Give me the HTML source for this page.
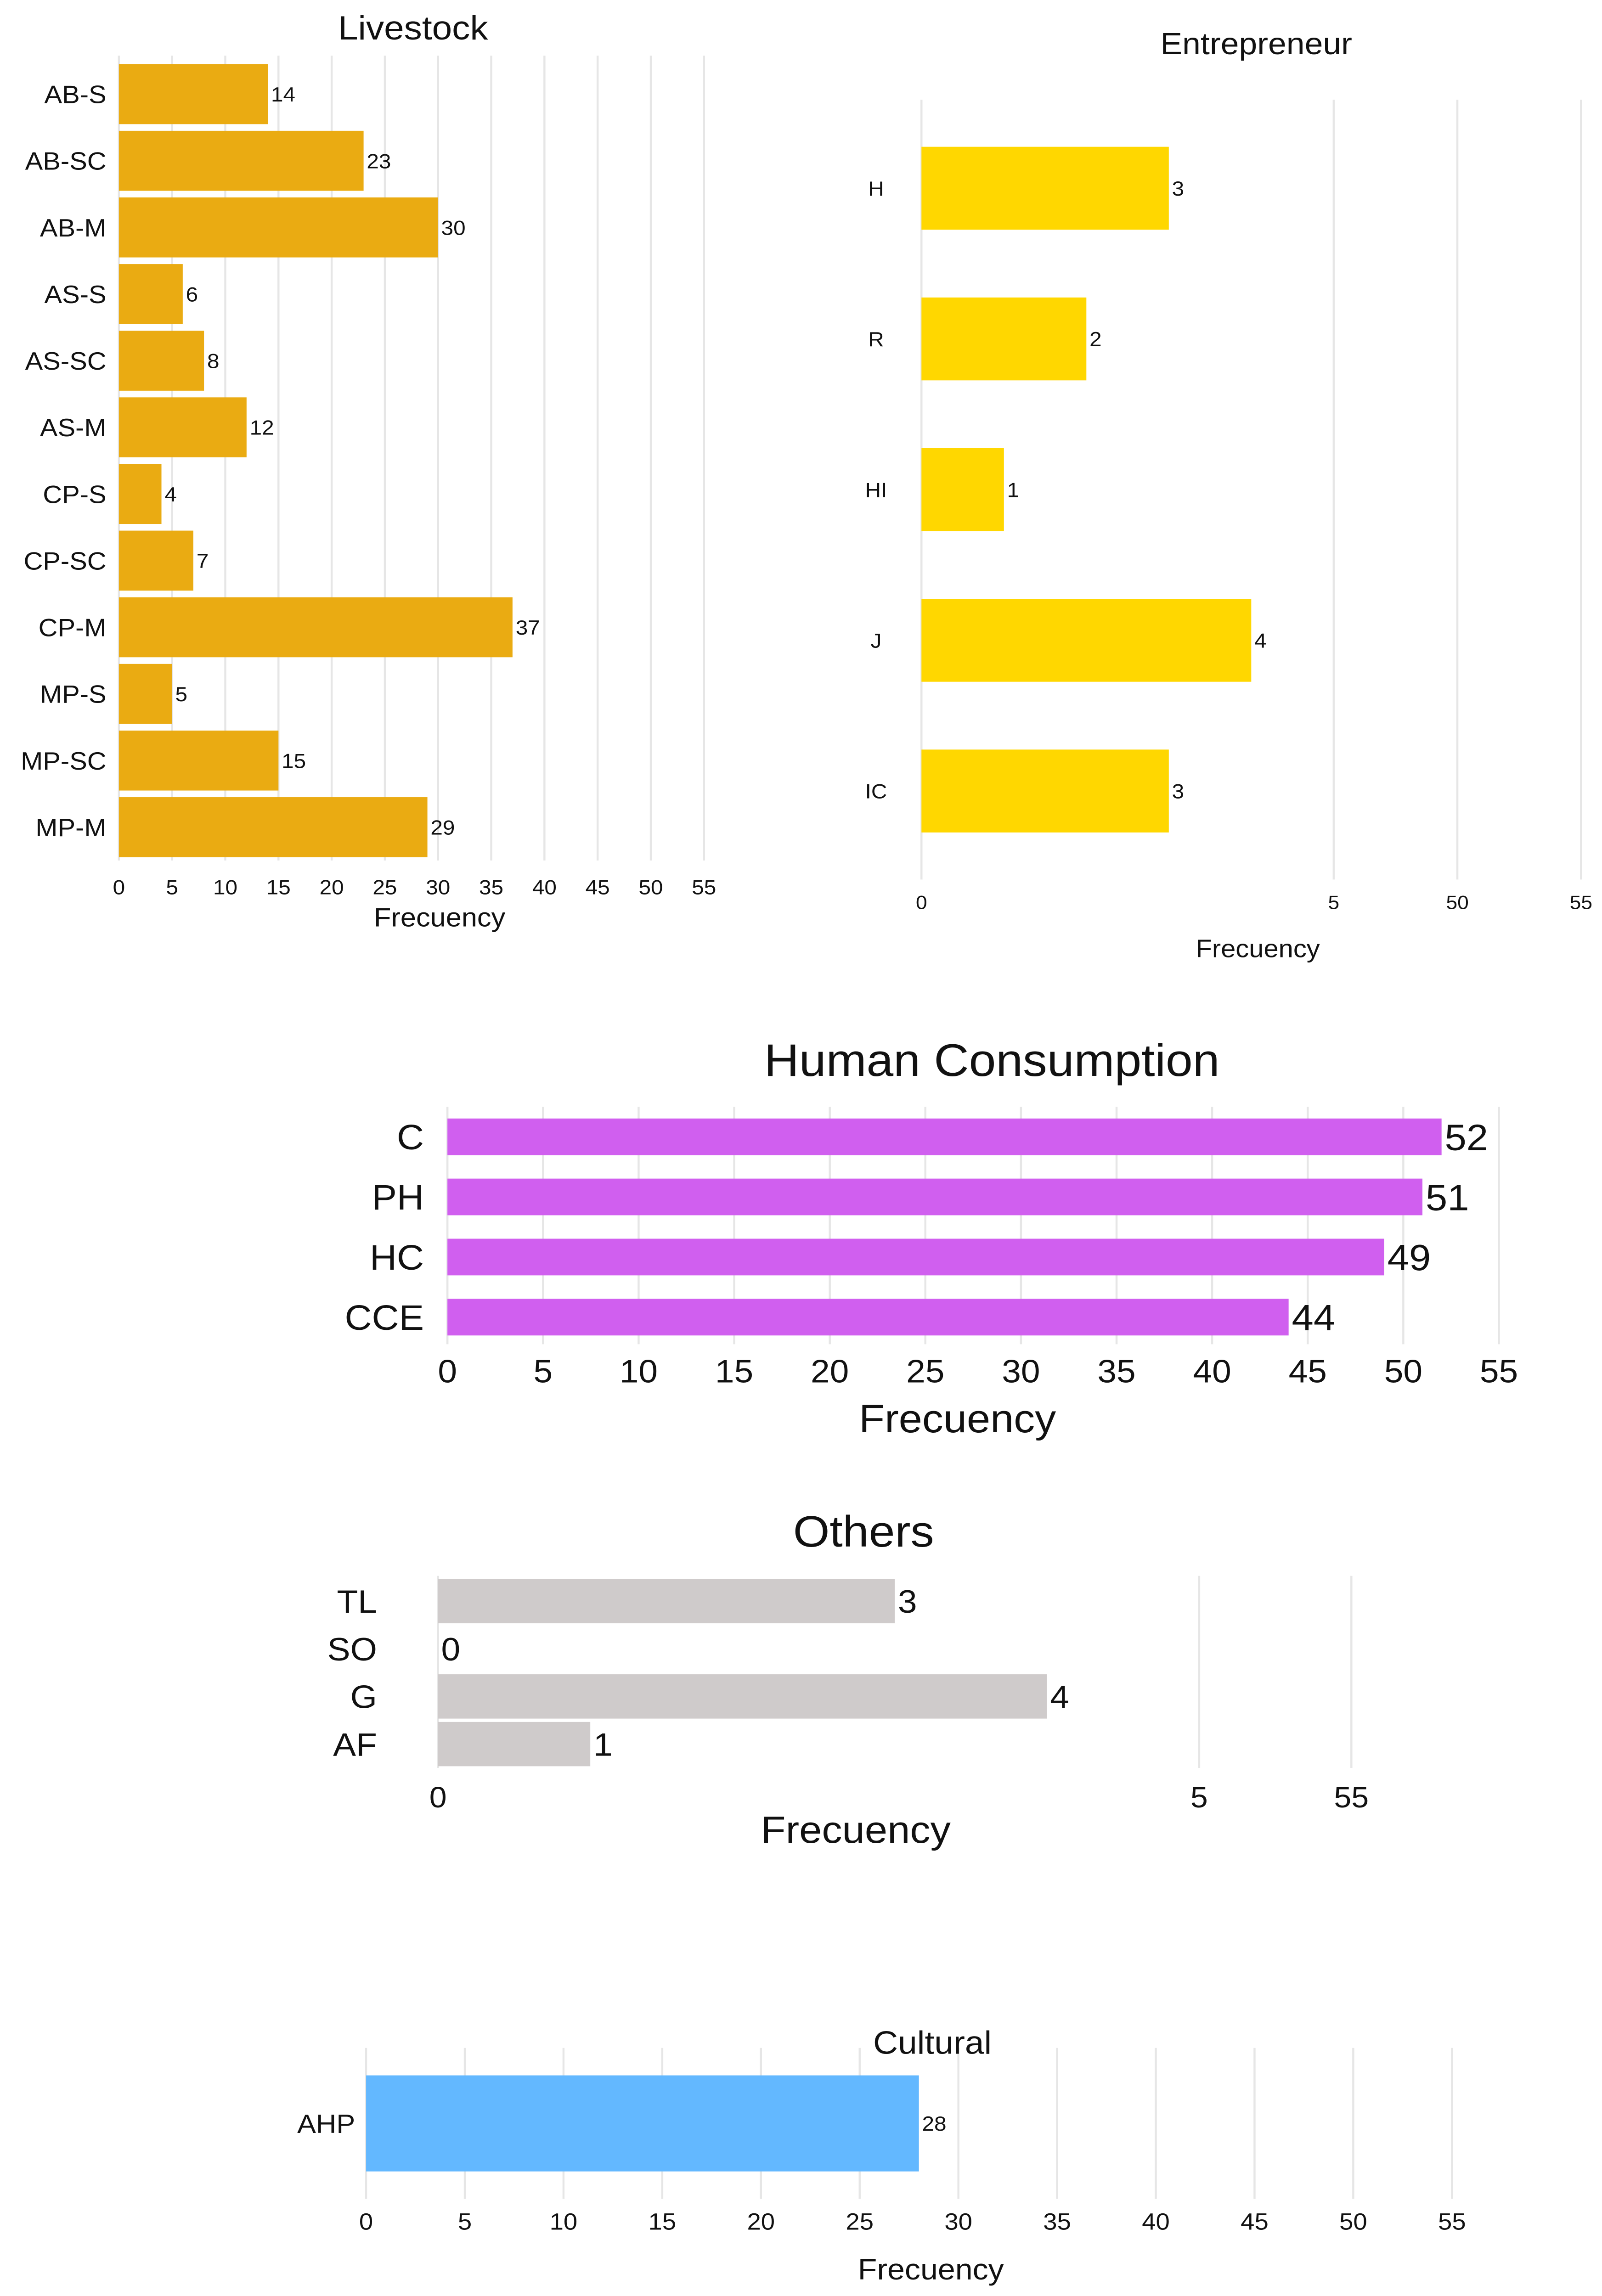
<!DOCTYPE html>
<html><head><meta charset="utf-8"><style>
html,body{margin:0;padding:0;background:#fff;width:100%;height:100%;overflow:hidden}
#wrap{position:fixed;left:0;top:0;width:100vw;height:100vh;overflow:hidden}
svg{display:block;width:100vw;height:100vh}
text{font-family:"Liberation Sans",sans-serif;fill:#111}
</style></head>
<body>
<div id="wrap">
<svg id="c" viewBox="0 0 1024 1566.24" preserveAspectRatio="none" xmlns="http://www.w3.org/2000/svg"></svg>
</div>
<script>
// Livestock
const livestockCats = ["AB-S","AB-SC","AB-M","AS-S","AS-SC","AS-M","CP-S","CP-SC","CP-M","MP-S","MP-SC","MP-M"];
const livestockVals = [14,23,30,6,8,12,4,7,37,5,15,29];
const livestockTicks = [0,5,10,15,20,25,30,35,40,45,50,55];
const livestockTickLabels = ["0","5","10","15","20","25","30","35","40","45","50","55"];
// Entrepreneur
const entCats = ["H","R","HI","J","IC"];
const entVals = [3,2,1,4,3];
const entTicks = [0,5,6.5,8];
const entTickLabels = ["0","5","50","55"];
// Human consumption
const humCats = ["C","PH","HC","CCE"];
const humVals = [52,51,49,44];
const humTicks = [0,5,10,15,20,25,30,35,40,45,50,55];
const humTickLabels = ["0","5","10","15","20","25","30","35","40","45","50","55"];
// Others
const othCats = ["TL","SO","G","AF"];
const othVals = [3,0,4,1];
const othTicks = [0,5,6];
const othTickLabels = ["0","5","55"];
// Cultural
const culCats = ["AHP"];
const culVals = [28];
const culTicks = [0,5,10,15,20,25,30,35,40,45,50,55];
const culTickLabels = ["0","5","10","15","20","25","30","35","40","45","50","55"];

const svg = document.getElementById('c');
const NS = 'http://www.w3.org/2000/svg';
function mk(tag, attrs, parent){const e=document.createElementNS(NS,tag);for(const k in attrs)e.setAttribute(k,attrs[k]);parent.appendChild(e);return e;}
function txt(parent,x,y,s,size,anchor,content){const t=mk('text',{x:x,y:y,'font-size':size,'text-anchor':anchor},parent);t.textContent=content;return t;}

function panel(o){
  const g=mk('g',{},svg);
  
  
  const xs=v=>o.x0+v*o.ppu;
  const band=(o.yBot-o.yTop)/o.cats.length;
  o.ticks.forEach((t,i)=>{
    if(o.grid){
      const l=mk('line',{x1:xs(t),x2:xs(t),y1:o.gTop,y2:o.gBot,stroke:'#e6e6e6','stroke-width':1.3},g);
      
      
    }
    const tl=txt(g,xs(t),o.tickY,0,o.tickSize,'middle',o.tickLabels[i]);
    
    
  });
  o.cats.forEach((c,i)=>{
    const yc=o.yTop+band*(i+0.5);
    const h=band*o.fill;
    const v=o.vals[i];
    if(v>0){
      const r=mk('rect',{x:xs(0),y:yc-h/2,width:xs(v)-xs(0),height:h,fill:o.color},g);
      
      
    }
    const cl=txt(g,o.labelX,yc+o.labSize*0.36,0,o.labSize,o.labAnchor||'end',c);
    
    
    const vl=txt(g,xs(v)+2,yc+o.valSize*0.36,0,o.valSize,'start',String(v));
    
    
  });
  const tt=txt(g,o.titleX,o.titleY,0,o.titleSize,'middle',o.title);
  
  
  const at=txt(g,o.axX,o.axY,0,o.axSize,'middle','Frecuency');
  
  
}

panel({name:'livestock',cats:livestockCats,vals:livestockVals,ticks:livestockTicks,tickLabels:livestockTickLabels,
  x0:76,ppu:6.8,yTop:41.5,yBot:587,fill:0.9,color:'#EAAB12',grid:true,gTop:38,gBot:587,
  tickY:610,tickSize:14,labelX:68,labSize:17,valSize:14,title:'Livestock',titleX:264,titleY:27,titleSize:23,axX:281,axY:632,axSize:18});
panel({name:'entrepreneur',cats:entCats,vals:entVals,ticks:entTicks,tickLabels:entTickLabels,
  x0:589,ppu:52.7,yTop:77,yBot:591,fill:0.55,color:'#FFD700',grid:true,gTop:68,gBot:600,
  tickY:620,tickSize:13,labelX:560,labAnchor:'middle',labSize:14,valSize:14,title:'Entrepreneur',titleX:803,titleY:37,titleSize:21,axX:804,axY:653,axSize:17});
panel({name:'human-consumption',cats:humCats,vals:humVals,ticks:humTicks,tickLabels:humTickLabels,
  x0:286,ppu:12.22,yTop:755,yBot:919,fill:0.61,color:'#D05FEF',grid:true,gTop:755,gBot:917,
  tickY:943,tickSize:22,labelX:271,labSize:24,valSize:25,title:'Human Consumption',titleX:634,titleY:734,titleSize:31,axX:612,axY:977,axSize:27});
panel({name:'others',cats:othCats,vals:othVals,ticks:othTicks,tickLabels:othTickLabels,
  x0:280,ppu:97.3,yTop:1076,yBot:1206,fill:0.93,color:'#CFCBCB',grid:true,gTop:1075,gBot:1206,
  tickY:1233,tickSize:20,labelX:241,labSize:22,valSize:22,title:'Others',titleX:552,titleY:1055,titleSize:30,axX:547,axY:1257,axSize:26});
panel({name:'cultural',cats:culCats,vals:culVals,ticks:culTicks,tickLabels:culTickLabels,
  x0:234,ppu:12.62,yTop:1403,yBot:1494,fill:0.72,color:'#63B8FF',grid:true,gTop:1397,gBot:1500,
  tickY:1521,tickSize:16,labelX:227,labSize:18,valSize:14,title:'Cultural',titleX:596,titleY:1401,titleSize:22,axX:595,axY:1555,axSize:20});
</script>
</body></html>
